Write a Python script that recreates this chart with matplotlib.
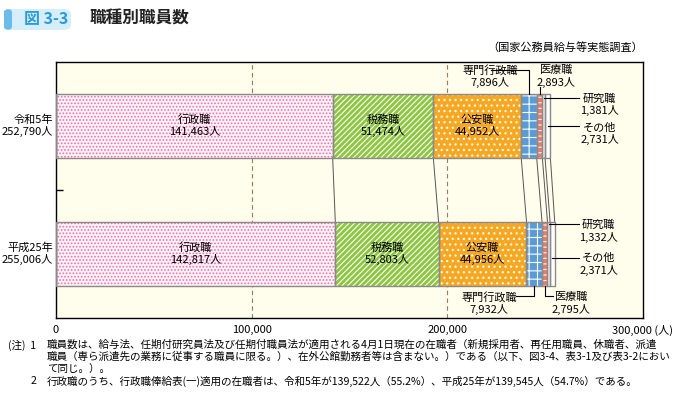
import matplotlib.pyplot as plt
from matplotlib.patches import FancyBboxPatch

plt.rcParams['font.family'] = ['Noto Sans CJK JP', 'DejaVu Sans']
plt.rcParams['hatch.linewidth'] = 0.8

# データ
years = ['令和5年', '平成25年']
totals = [252790, 255006]
jobs = ['行政職', '税務職', '公安職', '専門行政職', '医療職', '研究職', 'その他']
r5 = [141463, 51474, 44952, 7896, 2893, 1381, 2731]
h25 = [142817, 52803, 44956, 7932, 2795, 1332, 2371]
xticks = [0, 100000, 200000, 300000]
xticklabels = ['0', '100,000', '200,000', '300,000 (人)']

faces = ['#FDF3F8', '#8DC63F', '#F7A823', '#5B9BD5', '#EE7B66', '#FFF6F4', '#FFFFFF']
hatch_col = ['#EC6FA8', 'white', 'white', 'white', 'white', '#F08A78', '#E8412C']
hatches = ['.....', '//////', '...', '++', '---', '||', '|']

fig = plt.figure(figsize=(6.95, 4.17), dpi=100)
ax = fig.add_axes([56 / 695, 1 - 317.7 / 417, 586.7 / 695, 256 / 417])
ax.set_facecolor('#FFFDEB')
ax.set_xlim(0, 300000)
ax.set_ylim(0, 4)

for x in (100000, 200000):
    ax.axvline(x, color='#A0785A', lw=0.8, ls=(0, (4, 3)), zorder=1)

ypos = [3, 1]
data = [r5, h25]
lefts_all = []
for y, vals in zip(ypos, data):
    left = 0
    lefts = []
    for v, fc, hc, h in zip(vals, faces, hatch_col, hatches):
        ax.barh(y, v, left=left, height=1.0, color=fc, edgecolor=hc,
                hatch=h, lw=0, zorder=2)
        ax.barh(y, v, left=left, height=1.0, fill=False,
                edgecolor='#8A8A8A', lw=1.0, zorder=3)
        lefts.append(left)
        left += v
    lefts.append(left)
    lefts_all.append(lefts)

# 連結線
for a, b in zip(lefts_all[0][1:], lefts_all[1][1:]):
    ax.plot([a, b], [2.5, 1.5], color='#555555', lw=0.7, zorder=2)

fs = 8
# 大きな区分のラベル
for y, vals, lefts in zip(ypos, data, lefts_all):
    for i in range(3):
        cx = lefts[i] + vals[i] / 2
        ax.text(cx, y, f'{jobs[i]}\n{vals[i]:,}人', ha='center', va='center',
                fontsize=fs, linespacing=1.15, zorder=4)


def mid(lefts, vals, i):
    return lefts[i] + vals[i] / 2


L0, L1 = lefts_all
lc = dict(color='black', lw=0.8, zorder=4)
# 令和5年 注記
x = mid(L0, r5, 3)
ax.plot([222500, x, x], [3.87, 3.87, 3.5], **lc)
ax.text(222000, 3.87, jobs[3], ha='center', va='center', fontsize=fs)
ax.text(222000, 3.68, f'{r5[3]:,}人', ha='center', va='center', fontsize=fs)
x = mid(L0, r5, 4)
ax.plot([x, x], [3.6, 3.5], **lc)
ax.text(255800, 3.87, jobs[4], ha='center', va='center', fontsize=fs)
ax.text(255800, 3.68, f'{r5[4]:,}人', ha='center', va='center', fontsize=fs)
for i, yy in ((5, 3.42), (6, 2.97)):
    x = mid(L0, r5, i)
    ax.plot([x, 267500], [yy + 0.02, yy + 0.02], **lc)
    ax.text(278000, yy, jobs[i], ha='center', va='center', fontsize=fs)
    ax.text(278000, yy - 0.19, f'{r5[i]:,}人', ha='center', va='center', fontsize=fs)

# 平成25年 注記
for i, yy in ((5, 1.45), (6, 0.93)):
    x = mid(L1, h25, i)
    ax.plot([x, 267500], [yy + 0.01, yy + 0.01], **lc)
    ax.text(277500, yy, jobs[i], ha='center', va='center', fontsize=fs)
    ax.text(277500, yy - 0.19, f'{h25[i]:,}人', ha='center', va='center', fontsize=fs)
x = mid(L1, h25, 3)
ax.plot([235000, x, x], [0.34, 0.34, 0.5], **lc)
ax.text(221500, 0.32, jobs[3], ha='center', va='center', fontsize=fs)
ax.text(221500, 0.13, f'{h25[3]:,}人', ha='center', va='center', fontsize=fs)
x = mid(L1, h25, 4)
ax.plot([x, x, 254000], [0.5, 0.34, 0.34], **lc)
ax.text(263500, 0.32, jobs[4], ha='center', va='center', fontsize=fs)
ax.text(263500, 0.13, f'{h25[4]:,}人', ha='center', va='center', fontsize=fs)

# 軸
ax.set_xticks(xticks)
ax.set_xticklabels(xticklabels, fontsize=fs)
ax.tick_params(axis='x', length=0, pad=5)
ax.set_yticks([2])
ax.set_yticklabels([''])
ax.tick_params(axis='y', direction='in', length=5, width=1)
for s in ax.spines.values():
    s.set_linewidth(1.0)
for y, yr, tot in zip(ypos, years, totals):
    ax.text(-1500, y, f'{yr}\n{tot:,}人', ha='right', va='center',
            fontsize=fs, linespacing=1.15)

# タイトル
tab = FancyBboxPatch((4 / 695, 1 - 30 / 417), 67 / 695, 21 / 417,
                     boxstyle='round,pad=0,rounding_size=0.012',
                     transform=fig.transFigure, facecolor='#D6EEFA',
                     edgecolor='none')
fig.patches.append(tab)
fig.patches.append(FancyBboxPatch((4 / 695, 1 - 30 / 417), 8 / 695, 21 / 417,
                                  boxstyle='round,pad=0,rounding_size=0.008',
                                  transform=fig.transFigure, facecolor='#6BBCE8',
                                  edgecolor='none'))
fig.text(46 / 695, 1 - 19 / 417, '図 3-3', ha='center', va='center',
         fontsize=11.5, fontweight='bold', color='#2B9BD8')
fig.text(90 / 695, 1 - 19 / 417, '職種別職員数', ha='left', va='center',
         fontsize=12, fontweight='bold', color='#222222')
fig.text(643 / 695, 1 - 47 / 417, '（国家公務員給与等実態調査）', ha='right',
         va='center', fontsize=fs)

# 注
notes = [
    (345, '(注)  1', '職員数は、給与法、任期付研究員法及び任期付職員法が適用される4月1日現在の在職者（新規採用者、再任用職員、休職者、派遣'),
    (357, '', '職員（専ら派遣先の業務に従事する職員に限る。）、在外公館勤務者等は含まない。）である（以下、図3-4、表3-1及び表3-2におい'),
    (369, '', 'て同じ。）。'),
    (381, '2', '行政職のうち、行政職俸給表(一)適用の在職者は、令和5年が139,522人（55.2%）、平成25年が139,545人（54.7%）である。'),
]
for yy, head, body in notes:
    if head:
        fig.text(36 / 695, 1 - yy / 417, head, ha='right', va='center', fontsize=7.6)
    fig.text(47 / 695, 1 - yy / 417, body, ha='left', va='center', fontsize=7.6)

plt.savefig('out.png', dpi=100)
